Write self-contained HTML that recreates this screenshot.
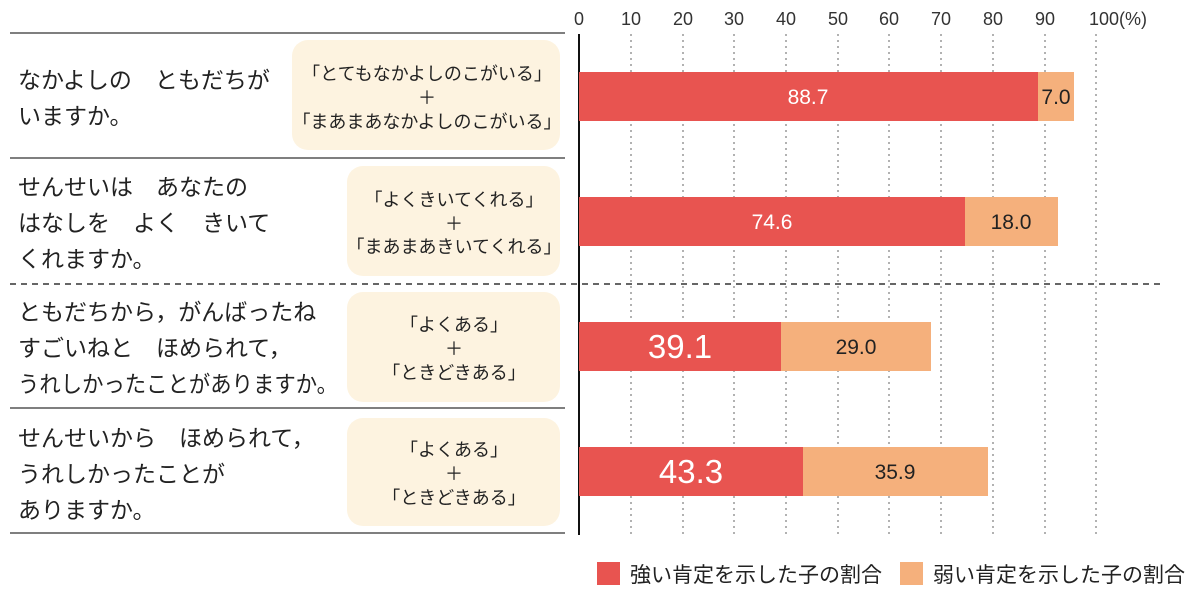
<!DOCTYPE html>
<html><head><meta charset="utf-8"><style>
body{margin:0;background:#fff;}
svg{display:block;font-family:"Liberation Sans","Noto Sans CJK JP",sans-serif;}
</style></head><body>
<svg width="1200" height="595" viewBox="0 0 1200 595" xmlns="http://www.w3.org/2000/svg">
<g stroke="#999" stroke-width="1.5" stroke-dasharray="2,4">
<line x1="631" y1="34" x2="631" y2="535"/><line x1="683" y1="34" x2="683" y2="535"/>
<line x1="734" y1="34" x2="734" y2="535"/><line x1="786" y1="34" x2="786" y2="535"/>
<line x1="838" y1="34" x2="838" y2="535"/><line x1="889" y1="34" x2="889" y2="535"/>
<line x1="941" y1="34" x2="941" y2="535"/><line x1="993" y1="34" x2="993" y2="535"/>
<line x1="1045" y1="34" x2="1045" y2="535"/><line x1="1096" y1="34" x2="1096" y2="535"/>
</g>
<g font-size="18" fill="#333" text-anchor="middle">
<text x="579" y="25">0</text><text x="631" y="25">10</text><text x="683" y="25">20</text>
<text x="734" y="25">30</text><text x="786" y="25">40</text><text x="838" y="25">50</text>
<text x="889" y="25">60</text><text x="941" y="25">70</text><text x="993" y="25">80</text>
<text x="1045" y="25">90</text><text x="1118" y="25">100(%)</text>
</g>
<g stroke="#555" stroke-width="1.5">
<line x1="10" y1="33" x2="565" y2="33"/><line x1="10" y1="158" x2="565" y2="158"/>
<line x1="10" y1="408" x2="565" y2="408"/><line x1="10" y1="533" x2="565" y2="533"/>
</g>
<line x1="10" y1="284" x2="1160" y2="284" stroke="#333" stroke-width="1.5" stroke-dasharray="6,5"/>
<line x1="579" y1="34" x2="579" y2="535" stroke="#111" stroke-width="2"/>
<g fill="#fdf3e0">
<rect x="292" y="40" width="268" height="110" rx="16"/>
<rect x="347" y="166" width="213" height="110" rx="16"/>
<rect x="347" y="292" width="213" height="110" rx="16"/>
<rect x="347" y="418" width="213" height="108" rx="16"/>
</g>
<g font-size="18" fill="#222" text-anchor="middle">
<text x="427" y="80">「とてもなかよしのこがいる」</text><text x="427" y="104">＋</text><text x="427" y="128">「まあまあなかよしのこがいる」</text>
<text x="454" y="206">「よくきいてくれる」</text><text x="454" y="230">＋</text><text x="454" y="253">「まあまあきいてくれる」</text>
<text x="454" y="331">「よくある」</text><text x="454" y="355">＋</text><text x="454" y="379">「ときどきある」</text>
<text x="454" y="456">「よくある」</text><text x="454" y="480">＋</text><text x="454" y="504">「ときどきある」</text>
</g>
<g font-size="23" fill="#222">
<text x="18" y="88">なかよしの　ともだちが</text><text x="18" y="124">いますか。</text>
<text x="18" y="195">せんせいは　あなたの</text><text x="18" y="231">はなしを　よく　きいて</text><text x="18" y="267">くれますか。</text>
<text x="18" y="320">ともだちから，がんばったね</text><text x="18" y="356">すごいねと　ほめられて，</text><text x="18" y="392" textLength="320" lengthAdjust="spacingAndGlyphs">うれしかったことがありますか。</text>
<text x="18" y="446">せんせいから　ほめられて，</text><text x="18" y="482">うれしかったことが</text><text x="18" y="518">ありますか。</text>
</g>
<g fill="#e85450">
<rect x="579" y="72" width="459" height="49"/><rect x="579" y="197" width="386" height="49"/>
<rect x="579" y="322" width="202" height="49"/><rect x="579" y="447" width="224" height="49"/>
</g>
<g fill="#f5b07c">
<rect x="1038" y="72" width="36" height="49"/><rect x="965" y="197" width="93" height="49"/>
<rect x="781" y="322" width="150" height="49"/><rect x="803" y="447" width="185" height="49"/>
</g>
<g fill="#fff" text-anchor="middle">
<text x="808" y="104" font-size="21">88.7</text><text x="772" y="229" font-size="21">74.6</text>
<text x="680" y="358" font-size="33">39.1</text><text x="691" y="483" font-size="33">43.3</text>
</g>
<g fill="#222" text-anchor="middle" font-size="21">
<text x="1056" y="104">7.0</text><text x="1011" y="229">18.0</text>
<text x="856" y="354">29.0</text><text x="895" y="479">35.9</text>
</g>
<rect x="597" y="562" width="23" height="23" fill="#e85450"/>
<text x="630" y="582" font-size="21" fill="#222">強い肯定を示した子の割合</text>
<rect x="900" y="562" width="23" height="23" fill="#f5b07c"/>
<text x="933" y="582" font-size="21" fill="#222">弱い肯定を示した子の割合</text>
</svg>
</body></html>
